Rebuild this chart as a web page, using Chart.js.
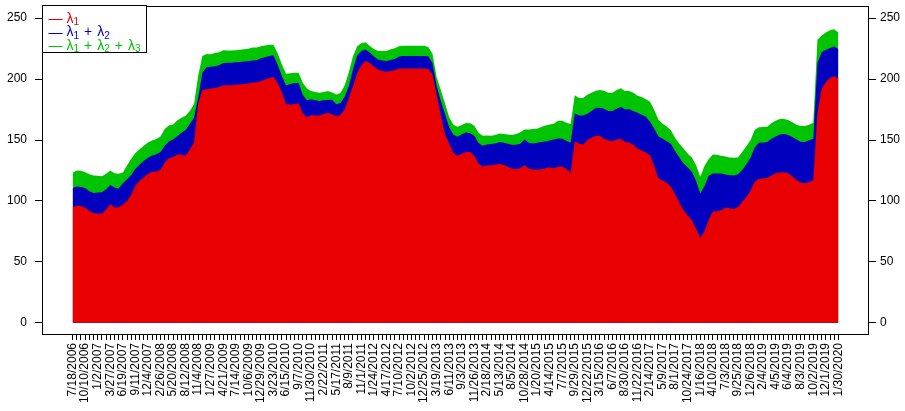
<!DOCTYPE html>
<html>
<head>
<meta charset="utf-8">
<script src="https://cdn.jsdelivr.net/npm/chart.js@4.4.1/dist/chart.umd.min.js"></script>
<style>
html,body{margin:0;padding:0;background:#ffffff;}
canvas{display:block;}
</style>
</head>
<body>
<canvas id="c" width="905" height="411"></canvas>
<script>
// ---- data -------------------------------------------------------------
const dateLabels = ["7/18/2006","10/10/2006","1/2/2007","3/27/2007","6/19/2007","9/11/2007","12/4/2007","2/26/2008","5/20/2008","8/12/2008","11/4/2008","1/27/2009","4/21/2009","7/14/2009","10/6/2009","12/29/2009","3/23/2010","6/15/2010","9/7/2010","11/30/2010","2/22/2011","5/17/2011","8/9/2011","11/1/2011","1/24/2012","4/17/2012","7/10/2012","10/2/2012","12/25/2012","3/19/2013","6/11/2013","9/3/2013","11/26/2013","2/18/2014","5/13/2014","8/5/2014","10/28/2014","1/20/2015","4/14/2015","7/7/2015","9/29/2015","12/22/2015","3/15/2016","6/7/2016","8/30/2016","11/22/2016","2/14/2017","5/9/2017","8/1/2017","10/24/2017","1/16/2018","4/10/2018","7/3/2018","9/25/2018","12/6/2018","2/4/2019","4/5/2019","6/4/2019","8/3/2019","10/2/2019","12/1/2019","1/30/2020"];
const labelEvery = 3;

// lambda1 (red)
const lambda1 = [94.8,96.2,95.7,94.6,91.8,90.2,89.8,89.5,92.9,97.6,
94.6,94.8,96.8,100.0,105.0,112.4,116.7,119.2,122.3,123.9,
124.2,125.5,131.6,135.1,136.0,138.2,137.9,137.4,142.0,148.0,
180.0,191.0,191.6,192.2,192.8,193.5,194.9,194.9,194.9,195.2,
195.7,196.0,196.5,197.0,197.5,198.5,199.6,201.0,201.8,196.8,
189.4,179.5,179.0,179.5,180.1,171.9,168.6,170.5,170.2,170.2,
171.3,172.4,171.0,169.5,170.6,175.0,184.5,194.3,204.8,211.3,
214.9,213.5,210.2,207.8,206.7,206.1,206.6,207.2,208.8,208.8,
208.8,208.8,208.8,208.8,208.8,208.3,203.9,187.5,170.0,155.0,
147.0,139.3,137.1,138.7,140.1,140.1,137.1,130.8,128.3,129.1,
129.4,129.7,130.5,129.7,128.0,126.4,126.4,126.9,129.4,126.6,
125.8,125.8,126.1,126.9,127.7,126.9,128.0,128.3,126.4,123.0,
149.1,147.2,146.4,149.9,151.9,153.5,153.5,151.3,149.7,149.1,
150.5,151.0,148.3,148.0,146.1,142.8,141.4,139.8,137.6,128.6,
118.7,116.8,114.9,111.6,105.5,98.7,92.4,88.0,84.2,77.1,
69.9,75.1,84.4,91.3,91.6,92.4,94.6,94.0,93.5,95.1,
99.2,103.3,108.3,115.7,118.1,118.4,119.0,120.9,122.8,123.4,
123.6,122.8,120.3,117.3,115.1,114.6,115.4,117.1,172.0,192.0,
197.5,201.0,202.6,200.5];

// lambda1 + lambda2 (blue)
const lambda12 = [110.7,111.8,111.5,110.7,108.0,106.6,106.9,107.2,109.6,113.2,
111.0,110.2,114.6,117.9,121.4,126.4,129.7,132.9,135.4,137.3,
138.4,140.1,145.3,148.8,150.5,153.2,156.0,158.2,163.1,168.3,
184.8,205.3,209.7,210.2,210.5,211.3,213.3,213.5,213.5,213.8,
214.0,214.4,214.9,215.2,215.5,217.1,217.9,219.0,219.5,211.8,
202.5,194.8,195.9,196.9,196.9,187.2,182.6,183.4,182.6,182.0,
182.6,182.8,183.1,179.3,180.4,185.3,194.3,207.8,219.5,223.1,
224.2,221.8,218.5,216.0,215.2,214.9,215.7,216.5,218.6,219.0,
219.0,219.0,219.0,219.0,219.0,218.8,213.3,194.3,182.0,171.5,
160.5,154.3,152.6,154.8,156.1,155.6,153.5,147.5,145.3,146.4,
146.7,147.2,148.3,147.8,146.9,146.1,146.1,146.9,150.5,147.8,
147.2,147.8,148.3,148.8,149.7,150.5,151.3,151.1,149.4,147.8,
171.9,170.2,170.2,171.6,173.8,176.3,176.5,175.7,173.8,173.8,
175.7,177.1,175.2,175.2,173.8,172.4,170.8,169.1,165.0,159.3,
153.0,151.1,149.1,146.7,140.9,135.7,130.8,127.5,123.9,116.5,
106.1,112.1,120.6,122.5,122.5,122.5,121.7,121.2,120.9,122.0,
125.3,130.2,135.4,143.9,147.8,148.0,148.3,151.1,153.0,154.6,
154.9,154.1,152.4,150.5,148.6,148.3,149.9,151.0,213.5,222.0,
224.0,225.6,226.7,224.8];

// lambda1 + lambda2 + lambda3 (green)
const lambda123 = [123.1,125.0,124.7,123.6,122.0,120.9,120.6,120.3,122.3,125.0,
122.8,122.3,123.4,129.1,134.6,139.3,142.5,145.3,148.0,149.7,
150.8,153.0,159.0,162.0,162.8,166.1,168.3,170.0,173.8,179.3,
202.6,219.0,220.7,220.4,221.5,222.0,223.7,223.4,223.4,223.7,
224.0,224.5,225.0,225.9,225.9,227.0,227.5,228.1,228.3,221.2,
212.2,204.3,204.8,205.3,205.3,197.1,192.2,190.2,189.4,188.9,
189.4,190.2,189.1,187.4,188.6,194.7,205.7,218.8,227.0,229.4,
230.3,227.2,224.8,223.1,223.1,223.1,224.5,225.3,227.0,227.3,
227.3,227.3,227.3,227.3,227.3,226.4,220.9,201.8,190.8,180.0,
168.7,162.5,160.9,162.3,163.9,163.7,161.7,156.0,153.5,153.8,
153.5,154.1,155.4,154.9,154.6,154.1,154.9,156.3,158.7,158.7,
159.0,159.3,160.6,162.0,162.8,163.4,165.8,165.8,164.2,163.1,
186.7,184.5,184.5,187.2,188.9,190.5,191.1,190.5,188.9,188.9,
191.1,192.4,190.2,190.2,188.9,186.4,185.3,183.4,181.5,174.6,
166.7,163.4,161.2,157.9,151.6,146.9,143.1,138.7,135.7,129.4,
119.8,128.6,134.3,138.2,137.9,137.1,136.5,135.7,135.4,135.7,
140.1,145.0,149.9,158.2,160.4,160.6,160.9,163.7,165.8,167.2,
167.2,166.4,164.5,162.6,161.5,161.5,162.6,164.2,232.2,235.7,
238.2,240.1,241.0,238.2];

const seriesNames = ["λ1", "λ1 + λ2", "λ1 + λ2 + λ3"];
const yTickValues = [0, 50, 100, 150, 200, 250];

// ---- styles -----------------------------------------------------------
const COLORS = ["#E90000", "#0000BE", "#00C400"];
const FONT = "'Liberation Sans', Arial, Helvetica, sans-serif";

const nPts = lambda1.length;
const pad = (nPts - 1) * 0.04;
const toPts = arr => arr.map((v, i) => ({x: i, y: v}));

// draw a label with digits after λ rendered as subscripts
function drawMathLabel(ctx, text, x, y, color) {
  ctx.fillStyle = color;
  ctx.textBaseline = 'middle';
  ctx.textAlign = 'left';
  let cx = x;
  const tokens = text.match(/λ\d|\+|\s+|[^\sλ+]+/g) || [];
  tokens.forEach(tok => {
    if (/^λ\d$/.test(tok)) {
      ctx.font = "14px " + FONT;
      ctx.fillText('λ', cx, y);
      cx += ctx.measureText('λ').width;
      ctx.font = "10px " + FONT;
      ctx.fillText(tok[1], cx, y + 3.5);
      cx += ctx.measureText(tok[1]).width;
    } else if (tok === '+') {
      cx += 5;
      ctx.font = "14px " + FONT;
      ctx.fillText('+', cx, y);
      cx += ctx.measureText('+').width + 5;
    }
  });
}

const boxAndLegend = {
  id: 'boxAndLegend',
  afterDraw(chart) {
    const {ctx, chartArea: a} = chart;
    ctx.save();
    ctx.strokeStyle = '#000';
    ctx.lineWidth = 1;
    ctx.strokeRect(Math.round(a.left) + 0.5, Math.round(a.top) + 0.5,
                   Math.round(a.right - a.left) - 1, Math.round(a.bottom - a.top) - 1);
    // legend
    const lx = Math.round(a.left) + 0.5, ly = Math.round(a.top) - 0.5;
    const lw = 104, lh = 47;
    ctx.fillStyle = '#fff';
    ctx.fillRect(lx, ly, lw, lh);
    ctx.strokeRect(lx, ly, lw, lh);
    seriesNames.forEach((name, k) => {
      const yy = ly + 13.5 + k * 13.5;
      ctx.strokeStyle = COLORS[k];
      ctx.lineWidth = 1;
      ctx.beginPath();
      ctx.moveTo(lx + 6, Math.round(yy) + 0.5);
      ctx.lineTo(lx + 20, Math.round(yy) + 0.5);
      ctx.stroke();
      drawMathLabel(ctx, name, lx + 24, yy, COLORS[k]);
    });
    ctx.restore();
  }
};

const noPad = s => { s.paddingTop = 0; s.paddingBottom = 0; s.paddingLeft = 0; s.paddingRight = 0; };

const yAxisCommon = {
  type: 'linear',
  min: -10,
  max: 260,
  afterBuildTicks: s => { s.ticks = yTickValues.map(v => ({value: v})); },
  border: {display: false},
  grid: {drawOnChartArea: false, drawTicks: true, tickLength: 7, color: '#000', lineWidth: 1},
  ticks: {color: '#000', font: {family: FONT, size: 12}}
};

new Chart(document.getElementById('c'), {
  type: 'line',
  data: {
    datasets: [
      {label: seriesNames[0], data: toPts(lambda1), backgroundColor: COLORS[0], borderColor: COLORS[0]},
      {label: seriesNames[1], data: toPts(lambda12), backgroundColor: COLORS[1], borderColor: COLORS[1]},
      {label: seriesNames[2], data: toPts(lambda123), backgroundColor: COLORS[2], borderColor: COLORS[2]}
    ].map(d => Object.assign(d, {fill: 'origin', borderWidth: 0, pointRadius: 0, tension: 0, yAxisID: 'y'}))
  },
  options: {
    responsive: false,
    devicePixelRatio: 1,
    animation: false,
    events: [],
    layout: {padding: {top: 6, left: 0, right: 0, bottom: 0}},
    plugins: {legend: {display: false}, tooltip: {enabled: false}},
    scales: {
      x: {
        type: 'linear',
        min: -pad,
        max: nPts - 1 + pad,
        afterBuildTicks: s => { s.ticks = lambda1.map((_, i) => ({value: i})); },
        afterFit: s => { s.height = 76; noPad(s); },
        border: {display: false},
        grid: {drawOnChartArea: false, drawTicks: true, tickLength: 5, color: '#000', lineWidth: 1},
        ticks: {
          autoSkip: false,
          maxRotation: 90,
          minRotation: 90,
          padding: 3,
          color: '#000',
          font: {family: FONT, size: 12},
          callback: v => (v % labelEvery === 0 ? (dateLabels[v / labelEvery] || '') : '')
        }
      },
      y: Object.assign({}, yAxisCommon, {
        position: 'left',
        afterFit: s => { s.width = 42; noPad(s); },
        ticks: Object.assign({}, yAxisCommon.ticks, {padding: 8})
      }),
      y2: Object.assign({}, yAxisCommon, {
        position: 'right',
        afterFit: s => { s.width = 36; noPad(s); },
        ticks: Object.assign({}, yAxisCommon.ticks, {padding: 4})
      })
    }
  },
  plugins: [boxAndLegend]
});
</script>
</body>
</html>
